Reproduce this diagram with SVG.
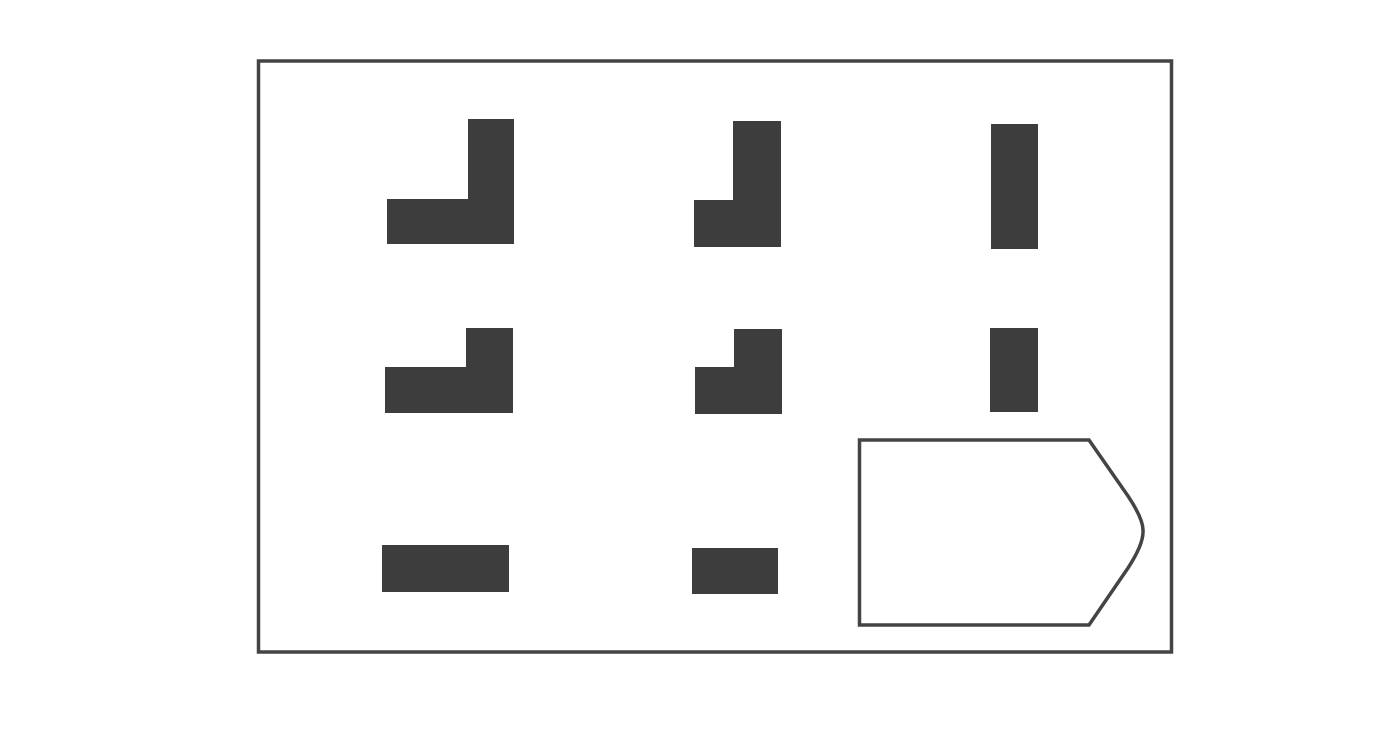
<svg xmlns="http://www.w3.org/2000/svg" width="1400" height="754" viewBox="0 0 1400 754">
<style>
.blk{fill:#3d3d3d;stroke:none}
.out{fill:none;stroke:#444;stroke-width:3.5;stroke-linejoin:miter}
</style>
<rect width="1400" height="754" fill="#fff"/>
<rect id="frame" class="out" x="258.5" y="61" width="913" height="591"/>
<g id="s1"><path class="blk" d="M387 199H468V119H514V244H387Z"/></g>
<g id="s2"><path class="blk" d="M694 200H733V121H781V247H694Z"/></g>
<g id="s3"><rect class="blk" x="991" y="124" width="47" height="125"/></g>
<g id="s4"><path class="blk" d="M385 367H466V328H513V413H385Z"/></g>
<g id="s5"><path class="blk" d="M695 367H734V329H782V414H695Z"/></g>
<g id="s6"><rect class="blk" x="990" y="328" width="48" height="84"/></g>
<g id="s7"><rect class="blk" x="382" y="545" width="127" height="47"/></g>
<g id="s8"><rect class="blk" x="692" y="548" width="86" height="46"/></g>
<g id="s9"><path class="out" d="M859.5 440H1089L1128 496Q1144 520 1143 532Q1143 545 1128 568L1089 625H859.5Z"/></g>
</svg>
